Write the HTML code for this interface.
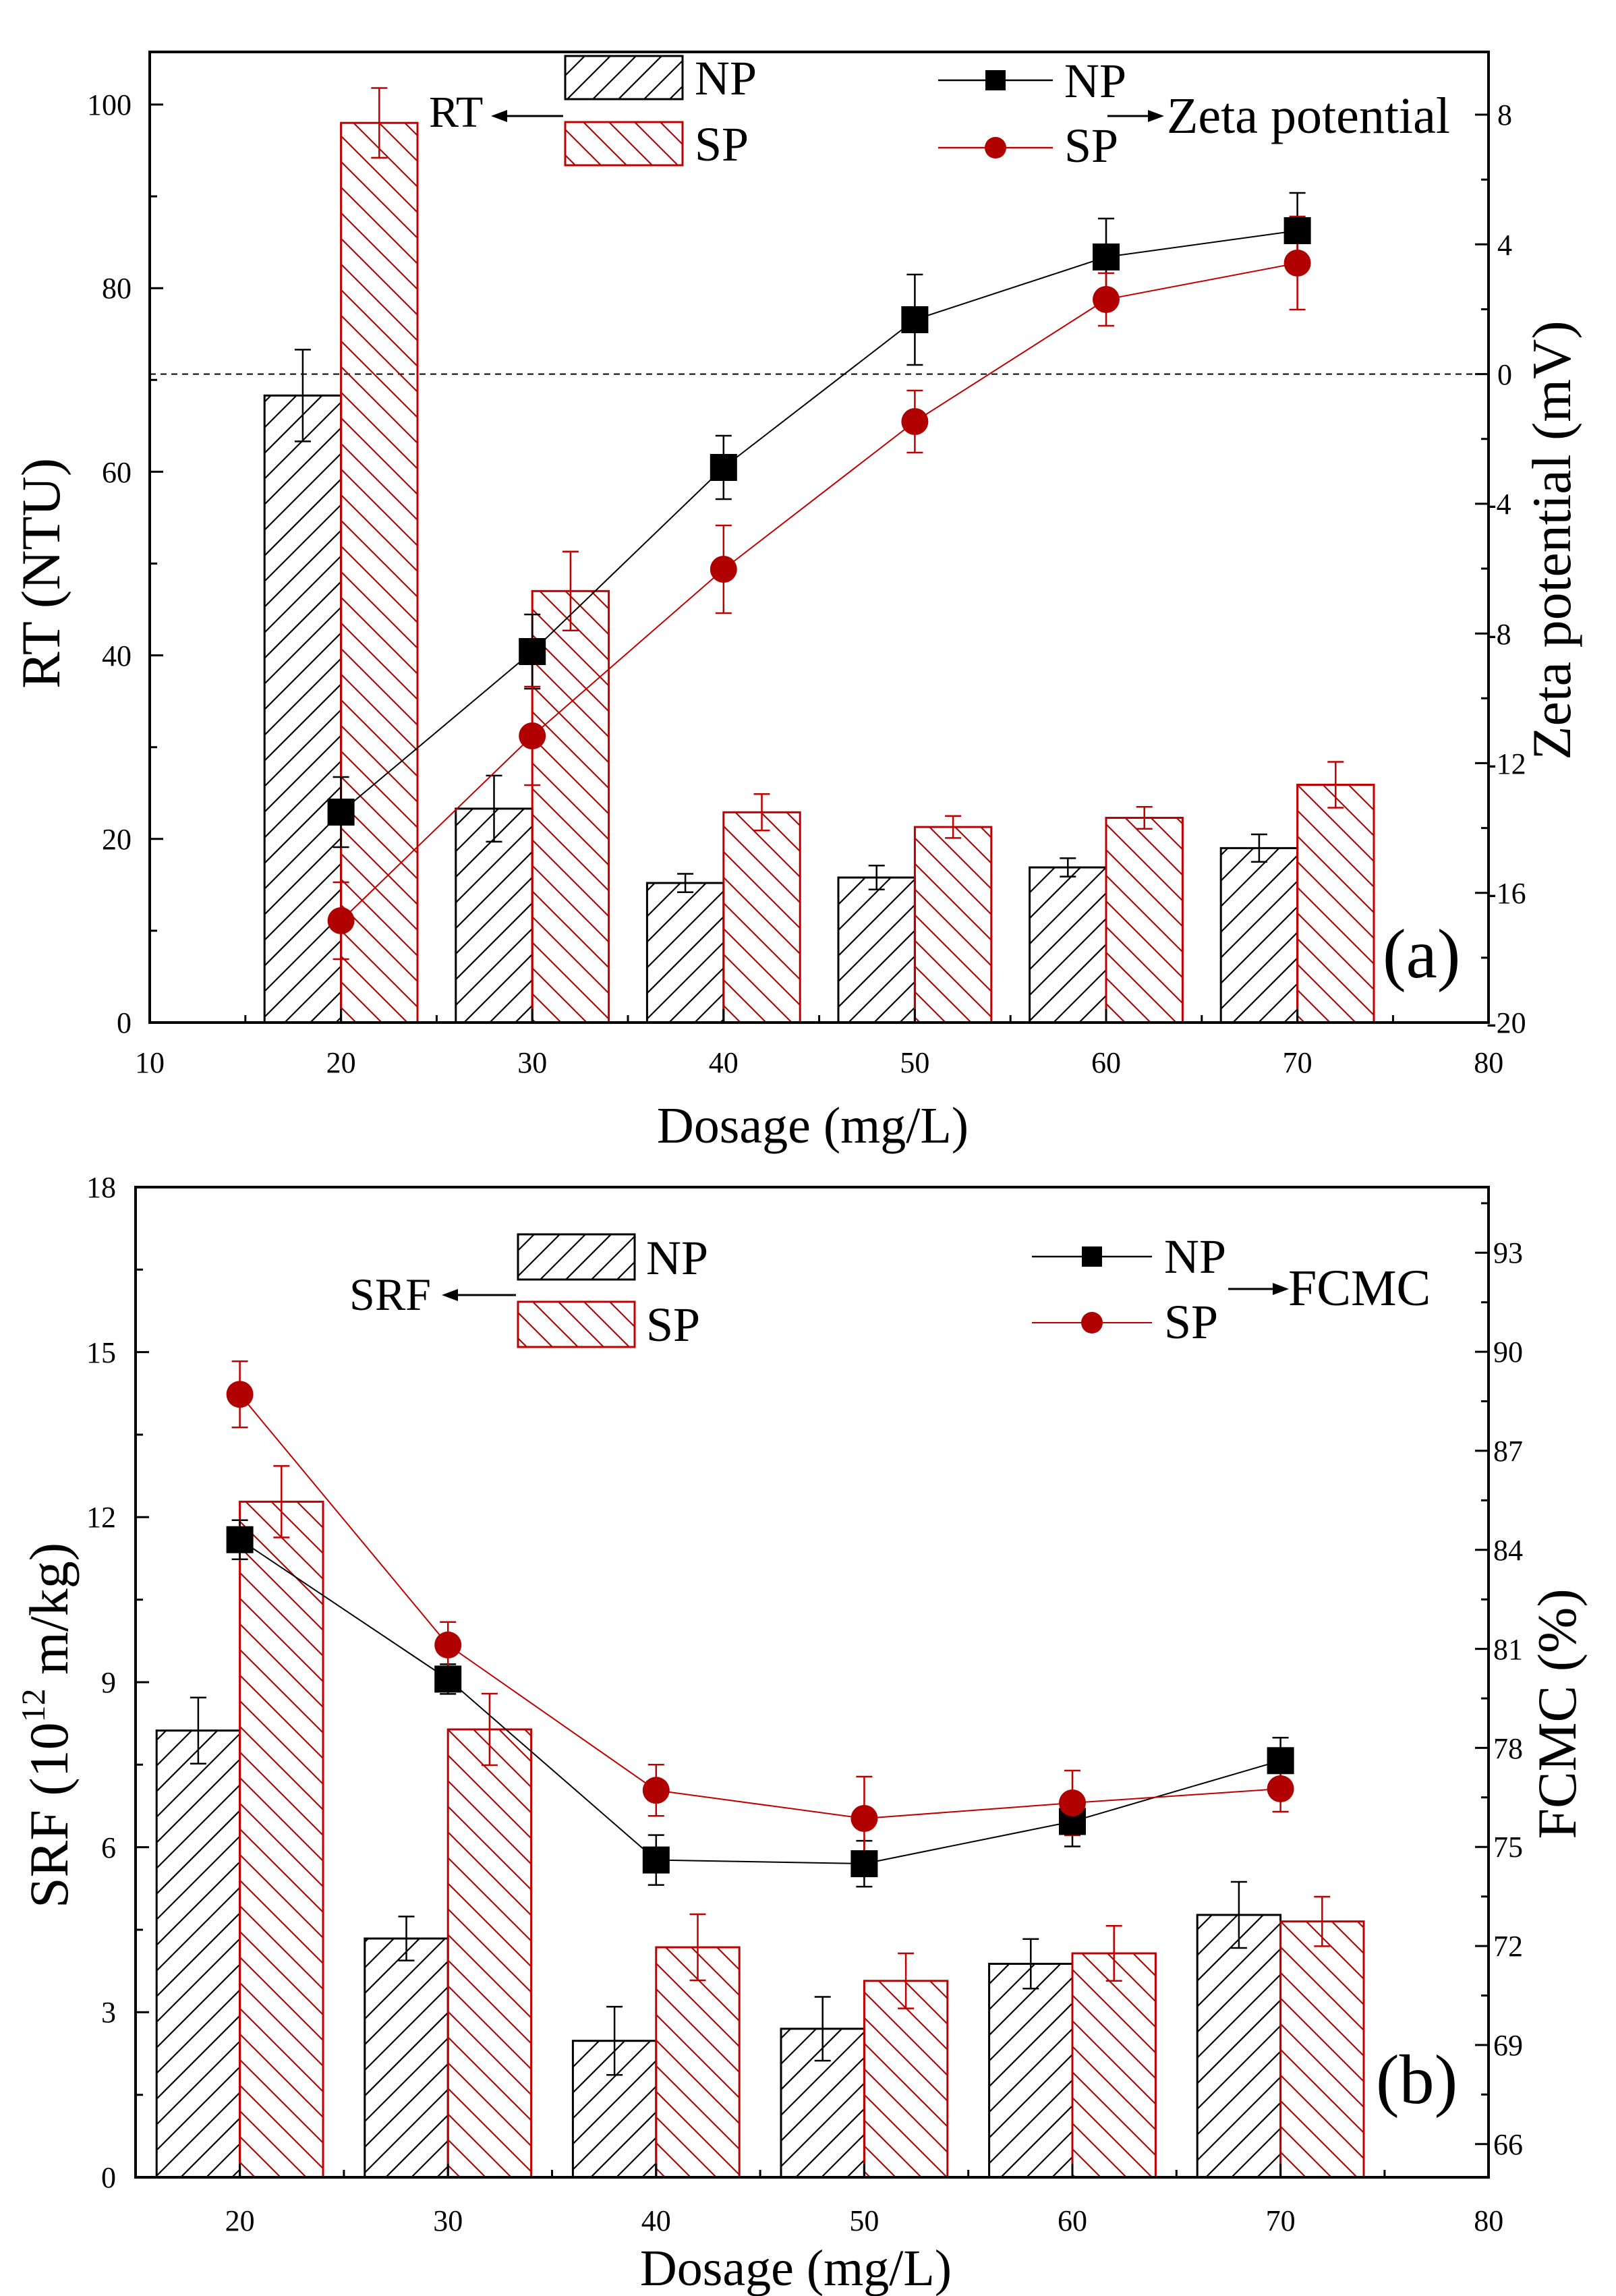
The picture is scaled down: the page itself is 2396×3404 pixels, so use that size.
<!DOCTYPE html>
<html><head><meta charset="utf-8"><style>
html,body{margin:0;padding:0;background:#fff}
svg{display:block}
text{font-family:"Liberation Serif",serif;fill:#000}
</style></head><body>
<svg width="2396" height="3404" viewBox="0 0 2396 3404" xmlns="http://www.w3.org/2000/svg">
<defs>
<pattern id="fw" patternUnits="userSpaceOnUse" width="38" height="38">
<path d="M-10,10 L10,-10 M0,38 L38,0 M28,48 L48,28" stroke="#000" stroke-width="2.2"/>
</pattern>
<pattern id="bw" patternUnits="userSpaceOnUse" width="38" height="38">
<path d="M-10,28 L10,48 M0,0 L38,38 M28,-10 L48,10" stroke="#c00000" stroke-width="2.2"/>
</pattern>
</defs>

<!-- ================= PANEL A ================= -->
<g stroke="#000" stroke-width="3" fill="none">
<line x1="222" y1="554.6" x2="2207" y2="554.6" stroke-width="2" stroke-dasharray="9,7"/>
</g>
<g stroke="#000" stroke-width="3" fill="url(#fw)">
<rect x="392.2" y="586.4" width="113.4" height="929.6"/>
<rect x="675.8" y="1198.9" width="113.4" height="317.1"/>
<rect x="959.4" y="1309.1" width="113.4" height="206.9"/>
<rect x="1243" y="1301" width="113.4" height="215"/>
<rect x="1526.6" y="1286" width="113.4" height="230"/>
<rect x="1810.2" y="1257.4" width="113.4" height="258.6"/>
</g>
<g stroke="#c00000" stroke-width="3" fill="url(#bw)">
<rect x="505.6" y="182.2" width="113.4" height="1333.8"/>
<rect x="789.2" y="876.3" width="113.4" height="639.7"/>
<rect x="1072.8" y="1204.3" width="113.4" height="311.7"/>
<rect x="1356.4" y="1226.1" width="113.4" height="289.9"/>
<rect x="1640" y="1212.5" width="113.4" height="303.5"/>
<rect x="1923.6" y="1163.5" width="113.4" height="352.5"/>
</g>
<g stroke="#000" stroke-width="2.5">
<path d="M448.9,518.4V654.4M436.9,518.4H460.9M436.9,654.4H460.9"/>
<path d="M732.5,1149.9V1247.9M720.5,1149.9H744.5M720.5,1247.9H744.5"/>
<path d="M1016.1,1295.5V1322.7M1004.1,1295.5H1028.1M1004.1,1322.7H1028.1"/>
<path d="M1299.7,1283.3V1318.7M1287.7,1283.3H1311.7M1287.7,1318.7H1311.7"/>
<path d="M1583.3,1272.4V1299.6M1571.3,1272.4H1595.3M1571.3,1299.6H1595.3"/>
<path d="M1866.9,1237V1277.8M1854.9,1237H1878.9M1854.9,1277.8H1878.9"/>
</g>
<g stroke="#c00000" stroke-width="2.5">
<path d="M562.3,130.5V233.9M550.3,130.5H574.3M550.3,233.9H574.3"/>
<path d="M845.9,817.8V934.8M833.9,817.8H857.9M833.9,934.8H857.9"/>
<path d="M1129.5,1177.3V1231.3M1117.5,1177.3H1141.5M1117.5,1231.3H1141.5"/>
<path d="M1413.1,1209.8V1242.4M1401.1,1209.8H1425.1M1401.1,1242.4H1425.1"/>
<path d="M1696.7,1196.2V1228.8M1684.7,1196.2H1708.7M1684.7,1228.8H1708.7"/>
<path d="M1980.3,1129.5V1197.5M1968.3,1129.5H1992.3M1968.3,1197.5H1992.3"/>
</g>
<polyline points="505.6,1204 789.2,966 1072.8,693 1356.4,474 1640,381 1923.6,342" fill="none" stroke="#000" stroke-width="2"/>
<polyline points="505.6,1365 789.2,1091 1072.8,844 1356.4,625 1640,444 1923.6,390" fill="none" stroke="#c00000" stroke-width="2"/>
<g stroke="#000" stroke-width="2.5">
<path d="M505.6,1152V1256M493.6,1152H517.6M493.6,1256H517.6"/>
<path d="M789.2,911V1021M777.2,911H801.2M777.2,1021H801.2"/>
<path d="M1072.8,646V740M1060.8,646H1084.8M1060.8,740H1084.8"/>
<path d="M1356.4,407V541M1344.4,407H1368.4M1344.4,541H1368.4"/>
<path d="M1640,324V438M1628,324H1652M1628,438H1652"/>
<path d="M1923.6,286V398M1911.6,286H1935.6M1911.6,398H1935.6"/>
</g>
<g stroke="#c00000" stroke-width="2.5">
<path d="M505.6,1308V1422M493.6,1308H517.6M493.6,1422H517.6"/>
<path d="M789.2,1018V1164M777.2,1018H801.2M777.2,1164H801.2"/>
<path d="M1072.8,779V909M1060.8,779H1084.8M1060.8,909H1084.8"/>
<path d="M1356.4,579V671M1344.4,579H1368.4M1344.4,671H1368.4"/>
<path d="M1640,405V483M1628,405H1652M1628,483H1652"/>
<path d="M1923.6,321V459M1911.6,321H1935.6M1911.6,459H1935.6"/>
</g>
<g fill="#000">
<rect x="485.6" y="1184" width="40" height="40"/><rect x="769.2" y="946" width="40" height="40"/>
<rect x="1052.8" y="673" width="40" height="40"/><rect x="1336.4" y="454" width="40" height="40"/>
<rect x="1620" y="361" width="40" height="40"/><rect x="1903.6" y="322" width="40" height="40"/>
</g>
<g fill="#b00000">
<circle cx="505.6" cy="1365" r="20"/><circle cx="789.2" cy="1091" r="20"/><circle cx="1072.8" cy="844" r="20"/>
<circle cx="1356.4" cy="625" r="20"/><circle cx="1640" cy="444" r="20"/><circle cx="1923.6" cy="390" r="20"/>
</g>
<rect x="222" y="77" width="1985" height="1439" fill="none" stroke="#000" stroke-width="4"/>
<g stroke="#000" stroke-width="3">
<path d="M222,1516v-20M363.8,1516v-11M505.6,1516v-20M647.4,1516v-11M789.2,1516v-20M931,1516v-11M1072.8,1516v-20M1214.6,1516v-11M1356.4,1516v-20M1498.2,1516v-11M1640,1516v-20M1781.8,1516v-11M1923.6,1516v-20M2065.4,1516v-11M2207.2,1516v-20"/>
<path d="M222,1516h20M222,1379.9h11M222,1243.8h20M222,1107.7h11M222,971.6h20M222,835.5h11M222,699.4h20M222,563.3h11M222,427.2h20M222,291.1h11M222,155h20"/>
<path d="M2207,1516h-20M2207,1419.9h-11M2207,1323.7h-20M2207,1227.6h-11M2207,1131.4h-20M2207,1035.3h-11M2207,939.2h-20M2207,843h-11M2207,746.9h-20M2207,650.7h-11M2207,554.6h-20M2207,458.5h-11M2207,362.3h-20M2207,266.2h-11M2207,170h-20"/>
</g>
<g font-size="44" text-anchor="middle">
<text x="222" y="1590">10</text><text x="505.6" y="1590">20</text><text x="789.2" y="1590">30</text><text x="1072.8" y="1590">40</text><text x="1356.4" y="1590">50</text><text x="1640" y="1590">60</text><text x="1923.6" y="1590">70</text><text x="2207.2" y="1590">80</text>
</g>
<g font-size="44" text-anchor="end">
<text x="195" y="1531">0</text><text x="195" y="1259">20</text><text x="195" y="987">40</text><text x="195" y="715">60</text><text x="195" y="442">80</text><text x="195" y="170">100</text>
</g>
<g font-size="44" text-anchor="start">
<text x="2204" y="1531">-20</text><text x="2204" y="1339">-16</text><text x="2204" y="1147">-12</text><text x="2204" y="955">-8</text><text x="2204" y="762">-4</text><text x="2220" y="570">0</text><text x="2220" y="378">4</text><text x="2220" y="185">8</text>
</g>
<text x="1205" y="1694" font-size="76" text-anchor="middle">Dosage (mg/L)</text>
<text transform="translate(88,850) rotate(-90)" font-size="82" text-anchor="middle">RT (NTU)</text>
<text transform="translate(2328,801) rotate(-90)" font-size="82" text-anchor="middle">Zeta potential (mV)</text>
<rect x="838" y="83" width="174" height="64" fill="url(#fw)" stroke="#000" stroke-width="3"/>
<rect x="838" y="181" width="174" height="64" fill="url(#bw)" stroke="#c00000" stroke-width="3"/>
<text x="1030" y="140" font-size="72">NP</text>
<text x="1030" y="238" font-size="72">SP</text>
<text x="636" y="188" font-size="66">RT</text>
<line x1="835" y1="172" x2="745" y2="172" stroke="#000" stroke-width="3"/><path d="M728,172 L752,163 L752,181Z"/>
<line x1="1391" y1="119" x2="1561" y2="119" stroke="#000" stroke-width="2.5"/><rect x="1461" y="104" width="30" height="30"/>
<line x1="1391" y1="219" x2="1561" y2="219" stroke="#c00000" stroke-width="2.5"/><circle cx="1476" cy="219" r="16" fill="#b00000"/>
<text x="1578" y="144" font-size="72">NP</text>
<text x="1578" y="240" font-size="72">SP</text>
<line x1="1642" y1="172" x2="1708" y2="172" stroke="#000" stroke-width="3"/><path d="M1726,172 L1702,163 L1702,181Z"/>
<text x="1730" y="197" font-size="76">Zeta potential</text>
<text x="2050" y="1449" font-size="104">(a)</text>

<!-- ================= PANEL B ================= -->
<g stroke="#000" stroke-width="3" fill="url(#fw)">
<rect x="232.2" y="2565.7" width="123.4" height="662.3"/>
<rect x="540.8" y="2874" width="123.4" height="354"/>
<rect x="849.4" y="3025.7" width="123.4" height="202.3"/>
<rect x="1158" y="3007.8" width="123.4" height="220.2"/>
<rect x="1466.6" y="2911.5" width="123.4" height="316.5"/>
<rect x="1775.2" y="2839" width="123.4" height="389"/>
</g>
<g stroke="#c00000" stroke-width="3" fill="url(#bw)">
<rect x="355.6" y="2226.4" width="123.4" height="1001.6"/>
<rect x="664.2" y="2564" width="123.4" height="664"/>
<rect x="972.8" y="2887" width="123.4" height="341"/>
<rect x="1281.4" y="2936.8" width="123.4" height="291.2"/>
<rect x="1590" y="2896" width="123.4" height="332"/>
<rect x="1898.6" y="2848.7" width="123.4" height="379.3"/>
</g>
<g stroke="#000" stroke-width="2.5">
<path d="M293.9,2516.7V2614.7M281.9,2516.7H305.9M281.9,2614.7H305.9"/>
<path d="M602.5,2841.4V2906.6M590.5,2841.4H614.5M590.5,2906.6H614.5"/>
<path d="M911.1,2975.1V3076.3M899.1,2975.1H923.1M899.1,3076.3H923.1"/>
<path d="M1219.7,2960.5V3055.1M1207.7,2960.5H1231.7M1207.7,3055.1H1231.7"/>
<path d="M1528.3,2874.8V2948.2M1516.3,2874.8H1540.3M1516.3,2948.2H1540.3"/>
<path d="M1836.9,2790V2888M1824.9,2790H1848.9M1824.9,2888H1848.9"/>
</g>
<g stroke="#c00000" stroke-width="2.5">
<path d="M417.3,2173.4V2279.4M405.3,2173.4H429.3M405.3,2279.4H429.3"/>
<path d="M725.9,2511V2617M713.9,2511H737.9M713.9,2617H737.9"/>
<path d="M1034.5,2838V2936M1022.5,2838H1046.5M1022.5,2936H1046.5"/>
<path d="M1343.1,2896V2977.6M1331.1,2896H1355.1M1331.1,2977.6H1355.1"/>
<path d="M1651.7,2855.2V2936.8M1639.7,2855.2H1663.7M1639.7,2936.8H1663.7"/>
<path d="M1960.3,2812V2885.4M1948.3,2812H1972.3M1948.3,2885.4H1972.3"/>
</g>
<polyline points="355.6,2282.7 664.2,2489.4 972.8,2757.6 1281.4,2763.1 1590,2700.5 1898.6,2610.3" fill="none" stroke="#000" stroke-width="2"/>
<polyline points="355.6,2067.2 664.2,2438.8 972.8,2654.3 1281.4,2696 1590,2673 1898.6,2652" fill="none" stroke="#c00000" stroke-width="2"/>
<g stroke="#000" stroke-width="2.5">
<path d="M355.6,2253.7V2311.7M343.6,2253.7H367.6M343.6,2311.7H367.6"/>
<path d="M664.2,2467.4V2511.4M652.2,2467.4H676.2M652.2,2511.4H676.2"/>
<path d="M972.8,2720.6V2794.6M960.8,2720.6H984.8M960.8,2794.6H984.8"/>
<path d="M1281.4,2729.1V2797.1M1269.4,2729.1H1293.4M1269.4,2797.1H1293.4"/>
<path d="M1590,2663.5V2737.5M1578,2663.5H1602M1578,2737.5H1602"/>
<path d="M1898.6,2576.3V2644.3M1886.6,2576.3H1910.6M1886.6,2644.3H1910.6"/>
</g>
<g stroke="#c00000" stroke-width="2.5">
<path d="M355.6,2018.2V2116.2M343.6,2018.2H367.6M343.6,2116.2H367.6"/>
<path d="M664.2,2404.8V2472.8M652.2,2404.8H676.2M652.2,2472.8H676.2"/>
<path d="M972.8,2616.3V2692.3M960.8,2616.3H984.8M960.8,2692.3H984.8"/>
<path d="M1281.4,2634V2758M1269.4,2634H1293.4M1269.4,2758H1293.4"/>
<path d="M1590,2625V2721M1578,2625H1602M1578,2721H1602"/>
<path d="M1898.6,2618V2686M1886.6,2618H1910.6M1886.6,2686H1910.6"/>
</g>
<g fill="#000">
<rect x="335.6" y="2262.7" width="40" height="40"/><rect x="644.2" y="2469.4" width="40" height="40"/>
<rect x="952.8" y="2737.6" width="40" height="40"/><rect x="1261.4" y="2743.1" width="40" height="40"/>
<rect x="1570" y="2680.5" width="40" height="40"/><rect x="1878.6" y="2590.3" width="40" height="40"/>
</g>
<g fill="#b00000">
<circle cx="355.6" cy="2067.2" r="20"/><circle cx="664.2" cy="2438.8" r="20"/><circle cx="972.8" cy="2654.3" r="20"/>
<circle cx="1281.4" cy="2696" r="20"/><circle cx="1590" cy="2673" r="20"/><circle cx="1898.6" cy="2652" r="20"/>
</g>
<rect x="201" y="1760" width="2006" height="1468" fill="none" stroke="#000" stroke-width="4"/>
<g stroke="#000" stroke-width="3">
<path d="M355.6,3228v-20M509.9,3228v-11M664.2,3228v-20M818.5,3228v-11M972.8,3228v-20M1127.1,3228v-11M1281.4,3228v-20M1435.7,3228v-11M1590,3228v-20M1744.3,3228v-11M1898.6,3228v-20M2052.9,3228v-11"/>
<path d="M201,3105.7h11M201,2983.3h20M201,2861h11M201,2738.6h20M201,2616.3h11M201,2494h20M201,2371.6h11M201,2249.3h20M201,2127h11M201,2004.6h20M201,1882.3h11"/>
<path d="M2207,3178.7h-20M2207,3105.3h-11M2207,3031.9h-20M2207,2958.5h-11M2207,2885.1h-20M2207,2811.7h-11M2207,2738.2h-20M2207,2664.8h-11M2207,2591.4h-20M2207,2518h-11M2207,2444.6h-20M2207,2371.2h-11M2207,2297.8h-20M2207,2224.4h-11M2207,2150.9h-20M2207,2077.5h-11M2207,2004.1h-20M2207,1930.7h-11M2207,1857.3h-20M2207,1783.9h-11"/>
</g>
<g font-size="44" text-anchor="middle">
<text x="355.6" y="3307">20</text><text x="664.2" y="3307">30</text><text x="972.8" y="3307">40</text><text x="1281.4" y="3307">50</text><text x="1590" y="3307">60</text><text x="1898.6" y="3307">70</text><text x="2207.2" y="3307">80</text>
</g>
<g font-size="44" text-anchor="end">
<text x="172" y="3243">0</text><text x="172" y="2998">3</text><text x="172" y="2754">6</text><text x="172" y="2509">9</text><text x="172" y="2264">12</text><text x="172" y="2020">15</text><text x="172" y="1775">18</text>
</g>
<g font-size="44" text-anchor="start">
<text x="2214" y="3194">66</text><text x="2214" y="3047">69</text><text x="2214" y="2900">72</text><text x="2214" y="2753">75</text><text x="2214" y="2607">78</text><text x="2214" y="2460">81</text><text x="2214" y="2313">84</text><text x="2214" y="2166">87</text><text x="2214" y="2019">90</text><text x="2214" y="1872">93</text>
</g>
<text x="1180" y="3388" font-size="76" text-anchor="middle">Dosage (mg/L)</text>
<text transform="translate(100,2558) rotate(-90)" font-size="82" text-anchor="middle">SRF (10<tspan font-size="50" dy="-34">12</tspan><tspan dy="34"> m/kg)</tspan></text>
<text transform="translate(2336,2541) rotate(-90)" font-size="82" text-anchor="middle">FCMC (%)</text>
<rect x="768" y="1830" width="173" height="67" fill="url(#fw)" stroke="#000" stroke-width="3"/>
<rect x="768" y="1930" width="173" height="67" fill="url(#bw)" stroke="#c00000" stroke-width="3"/>
<text x="958" y="1889" font-size="72">NP</text>
<text x="958" y="1988" font-size="72">SP</text>
<text x="518" y="1942" font-size="68">SRF</text>
<line x1="765" y1="1920" x2="672" y2="1920" stroke="#000" stroke-width="3"/><path d="M655,1920 L679,1911 L679,1929Z"/>
<line x1="1530" y1="1863" x2="1708" y2="1863" stroke="#000" stroke-width="2.5"/><rect x="1604" y="1848" width="30" height="30"/>
<line x1="1530" y1="1961" x2="1708" y2="1961" stroke="#c00000" stroke-width="2"/><circle cx="1619" cy="1961" r="16" fill="#b00000"/>
<text x="1726" y="1887" font-size="72">NP</text>
<text x="1726" y="1984" font-size="72">SP</text>
<line x1="1821" y1="1911" x2="1893" y2="1911" stroke="#000" stroke-width="3"/><path d="M1911,1911 L1887,1902 L1887,1920Z"/>
<text x="1910" y="1935" font-size="76">FCMC</text>
<text x="2040" y="3118" font-size="104">(b)</text>
</svg>
</body></html>
